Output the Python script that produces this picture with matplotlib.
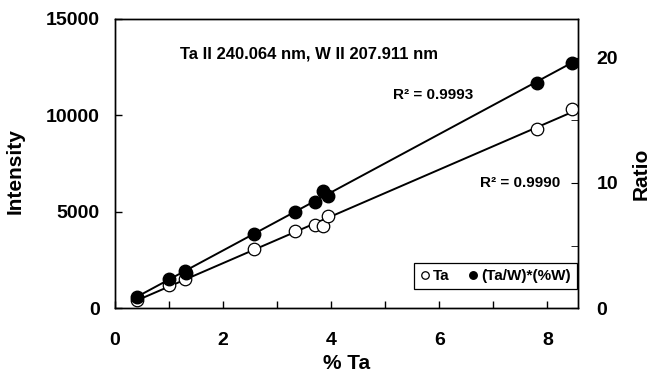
import matplotlib.pyplot as plt
import numpy as np
from matplotlib.ticker import MultipleLocator

plt.rcParams['font.family'] = ['Liberation Sans', 'DejaVu Sans']
plt.rcParams['font.weight'] = 'bold'

# % Ta of the samples
pct_ta = [0.4, 1.0, 1.3, 2.57, 3.33, 3.7, 3.85, 3.95, 7.8, 8.45]
# Ta II intensity (left axis)
ta_int = [430, 1190, 1500, 3070, 4000, 4300, 4250, 4780, 9290, 10330]
# (Ta/W)*(%W) ratio (right axis)
pct_ratio = [0.4, 1.0, 1.3, 1.32, 2.57, 3.33, 3.7, 3.85, 3.95, 7.8, 8.45]
ratio = [0.9, 2.3, 3.0, 2.8, 5.9, 7.7, 8.5, 9.4, 9.0, 18.0, 19.6]

fig = plt.figure(figsize=(6.49, 3.78), dpi=100)
ax = fig.add_axes([0.177, 0.185, 0.714, 0.765])
ax2 = ax.twinx()

# trend lines
x = np.array(pct_ta)
p = np.polyfit(x, ta_int, 1)
xx = np.array([min(pct_ta), max(pct_ta)])
ax.plot(xx, np.polyval(p, xx), color='k', lw=1.4, zorder=2)
x2 = np.array(pct_ratio)
p2 = np.polyfit(x2, ratio, 1)
ax2.plot(xx, np.polyval(p2, xx), color='k', lw=1.4, zorder=2)

h1, = ax.plot(pct_ta, ta_int, 'o', mfc='white', mec='k', mew=0.9, ms=9,
              label='Ta', zorder=3)
h2, = ax2.plot(pct_ratio, ratio, 'o', mfc='k', mec='k', ms=9,
               label='(Ta/W)*(%W)', zorder=3)

ax.set_xlim(0, 8.57)
ax.set_ylim(0, 15000)
ax2.set_ylim(0, 23.12)

ax.xaxis.set_major_locator(MultipleLocator(2))
ax.xaxis.set_minor_locator(MultipleLocator(1))
ax.yaxis.set_major_locator(MultipleLocator(5000))
ax2.yaxis.set_major_locator(MultipleLocator(10))
ax2.yaxis.set_minor_locator(MultipleLocator(5))

ax.tick_params(axis='both', which='both', direction='in', labelsize=14)
ax.tick_params(which='both', length=5, width=1)
ax.tick_params(axis='y', right=False)
ax2.tick_params(axis='y', which='both', direction='in', length=5, labelsize=14)
ax.tick_params(axis='x', pad=17)
ax.tick_params(axis='y', pad=11)
ax2.tick_params(axis='y', pad=13)

ax.set_xlabel('% Ta', fontsize=15, fontweight='bold', labelpad=4)
ax.set_ylabel('Intensity', fontsize=15, fontweight='bold')
ax2.set_ylabel('Ratio', fontsize=15, fontweight='bold')
ax.yaxis.set_label_coords(-0.195, 0.474)
ax2.yaxis.set_label_coords(1.115, 0.464)

ax.text(0.14, 0.88, 'Ta II 240.064 nm, W II 207.911 nm', transform=ax.transAxes,
        fontsize=12, fontweight='bold', va='center')
ax.text(0.6, 0.737, 'R² = 0.9993', transform=ax.transAxes,
        fontsize=11, fontweight='bold', va='center')
ax.text(0.788, 0.432, 'R² = 0.9990', transform=ax.transAxes,
        fontsize=11, fontweight='bold', va='center')

leg = ax2.legend([h1, h2], ['Ta', '(Ta/W)*(%W)'], loc='lower right', ncol=2,
                 fontsize=11, markerscale=0.6, handlelength=0.6,
                 handletextpad=0.2, columnspacing=1.3, fancybox=False,
                 edgecolor='k', framealpha=1, borderaxespad=0,
                 bbox_to_anchor=(0.997, 0.066))
leg.get_frame().set_linewidth(0.9)

for a in (ax, ax2):
    for s in a.spines.values():
        s.set_linewidth(1)

fig.savefig('out.png', dpi=100)
